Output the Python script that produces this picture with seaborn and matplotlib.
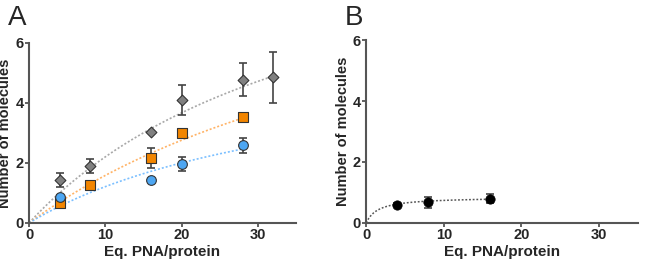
import numpy as np
import pandas as pd
import matplotlib
matplotlib.use('Agg')
import matplotlib.pyplot as plt
import seaborn as sns

sns.set_style("ticks")
plt.rcParams['font.family'] = ['Liberation Sans', 'DejaVu Sans']
plt.rcParams['font.weight'] = 'bold'

# Panel A data
gray_x = [4, 8, 16, 20, 28, 32]
gray_y = [1.43, 1.90, 3.02, 4.10, 4.77, 4.85]
gray_err = [0.23, 0.24, 0.0, 0.50, 0.55, 0.85]

orange_x = [4, 8, 16, 20, 28]
orange_y = [0.67, 1.26, 2.15, 3.01, 3.52]
orange_err = [0.06, 0.10, 0.33, 0.12, 0.06]

blue_x = [4, 16, 20, 28]
blue_y = [0.87, 1.43, 1.96, 2.58]
blue_err = [0.05, 0.0, 0.22, 0.24]

# Panel B data
black_x = [4, 8, 16]
black_y = [0.60, 0.67, 0.80]
black_err = [0.05, 0.18, 0.15]

# one-site fit parameters (Bmax, Kd, x range end)
fits_a = {'gray': (11.0, 40.0, 32), 'orange': (10.6, 57.0, 28), 'blue': (5.8, 38.0, 28)}
fit_b = (0.85, 1.5, 16)

line_cols = {'gray': '#a8a8a8', 'orange': '#ffb366', 'blue': '#7cc0ff'}
face_cols = {'gray': '#808080', 'orange': '#f28500', 'blue': '#4da6f2'}
markers = {'gray': 'D', 'orange': 's', 'blue': 'o'}
msize = {'gray': 5.5, 'orange': 6.5, 'blue': 7}
edge = '#333333'

fig = plt.figure(figsize=(6.46, 2.61), dpi=100)
axA = fig.add_axes([0.045, 0.146, 0.413, 0.69])
axB = fig.add_axes([0.567, 0.146, 0.42, 0.70])


def fit_curve(bmax, kd, xend):
    xs = np.linspace(0, xend, 200)
    return pd.DataFrame({'x': xs, 'y': bmax * xs / (kd + xs)})


for name in ['gray', 'orange', 'blue']:
    bmax, kd, xend = fits_a[name]
    sns.lineplot(data=fit_curve(bmax, kd, xend), x='x', y='y', ax=axA,
                 color=line_cols[name], linestyle=(0, (1.2, 1.2)), linewidth=1.2, zorder=1)

series = {'orange': (orange_x, orange_y, orange_err),
          'blue': (blue_x, blue_y, blue_err),
          'gray': (gray_x, gray_y, gray_err)}
for name, (xs, ys, es) in series.items():
    axA.errorbar(xs, ys, yerr=es, fmt='none', ecolor='#444444', elinewidth=1.2,
                 capsize=3, capthick=1.2, zorder=2)
    sns.scatterplot(x=xs, y=ys, ax=axA, marker=markers[name], s=msize[name] ** 2,
                    color=face_cols[name], edgecolor=edge, linewidth=0.8, zorder=3)

bmax, kd, xend = fit_b
sns.lineplot(data=fit_curve(bmax, kd, xend), x='x', y='y', ax=axB,
             color='#555555', linestyle=(0, (1.2, 1.2)), linewidth=1.1, zorder=1)
axB.errorbar(black_x, black_y, yerr=black_err, fmt='none', ecolor='#444444',
             elinewidth=1.2, capsize=3, capthick=1.2, zorder=2)
sns.scatterplot(x=black_x, y=black_y, ax=axB, marker='o', s=45, color='black',
                edgecolor='black', zorder=3)

for ax, lab in [(axA, 'A'), (axB, 'B')]:
    ax.set_xlim(0, 35)
    ax.set_ylim(0, 6)
    ax.set_xticks([0, 10, 20, 30])
    ax.set_yticks([0, 2, 4, 6])
    ax.set_xlabel('Eq. PNA/protein', fontsize=11, fontweight='bold', labelpad=2)
    ax.set_ylabel('Number of molecules', fontsize=10.5, fontweight='bold', labelpad=2)
    ax.tick_params(labelsize=10.5, width=1.3, length=3, color='#555555', pad=1)
    for t in ax.get_xticklabels() + ax.get_yticklabels():
        t.set_fontweight('bold')
    for s in ['left', 'bottom']:
        ax.spines[s].set_linewidth(1.5)
        ax.spines[s].set_color('#555555')
    for s in ['top', 'right']:
        ax.spines[s].set_visible(False)

fig.text(0.012, 0.93, 'A', fontsize=20, fontweight='normal', va='center')
fig.text(0.533, 0.93, 'B', fontsize=20, fontweight='normal', va='center')

plt.savefig('out.png', dpi=100)
plt.close()
